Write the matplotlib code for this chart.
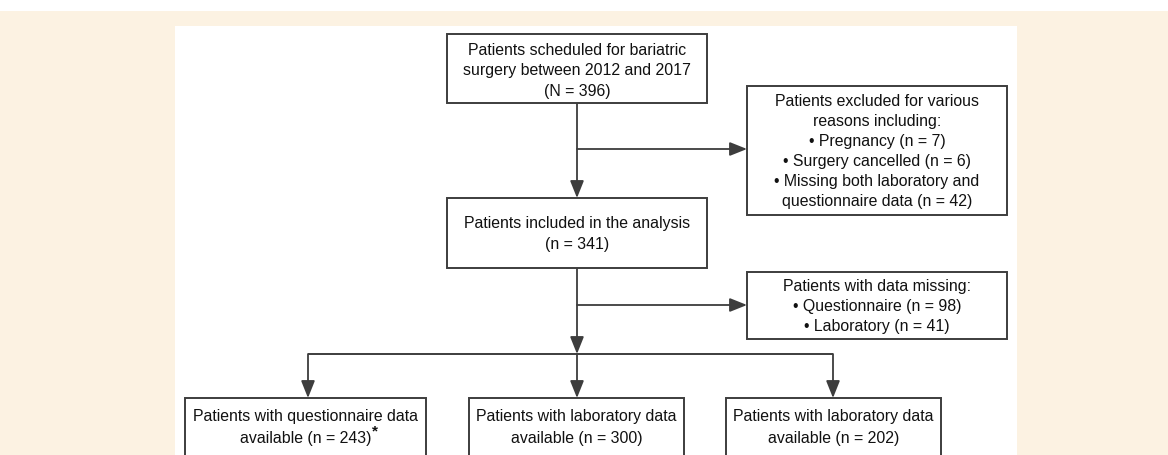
import matplotlib.pyplot as plt
from matplotlib.patches import Rectangle

plt.rcParams["font.family"] = ["Liberation Sans", "DejaVu Sans"]

# counts shown in the flowchart
n_scheduled = 396
excluded_labels = ["Pregnancy", "Surgery cancelled", "Missing both laboratory and\nquestionnaire data"]
excluded_counts = [7, 6, 42]
n_included = 341
missing_labels = ["Questionnaire", "Laboratory"]
missing_counts = [98, 41]
final_labels = ["Patients with questionnaire data", "Patients with laboratory data",
                "Patients with laboratory data"]
final_counts = [243, 300, 202]

W, H = 1168, 455
fig = plt.figure(figsize=(W / 100, H / 100), dpi=100)
ax = fig.add_axes([0, 0, 1, 1])
ax.set_xlim(0, W)
ax.set_ylim(H, 0)
ax.axis("off")

LC = "#3d3d3d"
TC = "#111111"
FS = 11.4
LS = 1.42

# background panels
ax.add_patch(Rectangle((0, 11), W, H, facecolor="#fcf2e2", edgecolor="none", zorder=0))
ax.add_patch(Rectangle((175, 26), 1017 - 175, H, facecolor="white", edgecolor="none", zorder=0))


def box(x0, y0, x1, y1, text=None, ty=None):
    ax.add_patch(Rectangle((x0, y0), x1 - x0, y1 - y0, facecolor="white", edgecolor=LC, lw=1.4, zorder=2))
    if text:
        return ax.text((x0 + x1) / 2, (y0 + y1) / 2 if ty is None else ty, text, ha="center",
                       va="center", fontsize=FS, color=TC, linespacing=LS, zorder=3)


def line(xs, ys):
    ax.plot(xs, ys, color=LC, lw=1.4, solid_capstyle="butt", zorder=1)


def arrow(x0, y0, x1, y1):
    ax.annotate("", xy=(x1, y1), xytext=(x0, y0),
                arrowprops=dict(arrowstyle="-|>,head_length=0.75,head_width=0.3", color=LC, lw=1.3,
                                shrinkA=0, shrinkB=0, mutation_scale=14), zorder=1)


# boxes
box(447, 34, 707, 103, "Patients scheduled for bariatric\nsurgery between 2012 and 2017\n(N = %d)" % n_scheduled,
    ty=71)
excl = "Patients excluded for various\nreasons including:\n" + "\n".join(
    "• %s (n = %d)" % (l, c) for l, c in zip(excluded_labels, excluded_counts))
box(747, 86, 1007, 215, excl, ty=151.5)
box(447, 198, 707, 268, "Patients included in the analysis\n(n = %d)" % n_included, ty=234)
miss = "Patients with data missing:\n" + "\n".join(
    "• %s (n = %d)" % (l, c) for l, c in zip(missing_labels, missing_counts))
box(747, 272, 1007, 339, miss, ty=306.5)

bx = [(185, 426), (469, 684), (726, 941)]
last = []
for (x0, x1), lab, c in zip(bx, final_labels, final_counts):
    box(x0, 398, x1, 480)
    ax.text((x0 + x1) / 2, 416, lab, ha="center", va="center", fontsize=FS, color=TC, zorder=3)
    last.append(ax.text((x0 + x1) / 2, 438, "available (n = %d)" % c, ha="center", va="center",
                        fontsize=FS, color=TC, zorder=3))

# asterisk after the first "available" line
fig.canvas.draw()
bb = last[0].get_window_extent().transformed(ax.transData.inverted())
ax.text(bb.x1 + 1, 431, "*", fontsize=11, color=TC, ha="left", va="center", fontweight="bold", zorder=3)

# connectors
cx = 577
arrow(cx, 103, cx, 198)
arrow(cx, 149, 747, 149)
arrow(cx, 268, cx, 354)
arrow(cx, 305, 747, 305)
line([308, 833], [354, 354])
for x in [308, 577, 833]:
    arrow(x, 354, x, 398)

fig.savefig("out.png", dpi=100)
